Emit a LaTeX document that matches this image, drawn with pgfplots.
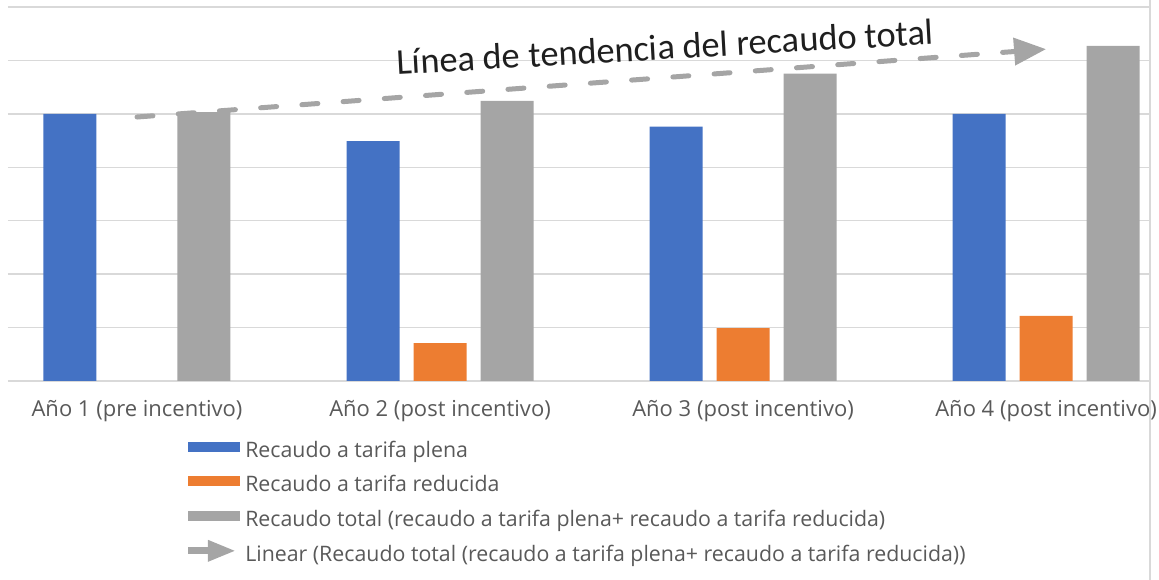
\documentclass[border=0pt]{standalone}
\usepackage{pgfplots}
\pgfplotsset{compat=1.18}
\usepackage{fontspec}
\setmainfont{Open Sans}
\newfontfamily\titlefont{Carlito}
\usetikzlibrary{arrows.meta}
\definecolor{cblue}{HTML}{4472C4}
\definecolor{corange}{HTML}{ED7D31}
\definecolor{cgray}{HTML}{A5A5A5}
\definecolor{cgrid}{HTML}{D9D9D9}
\definecolor{ctext}{HTML}{595959}
\begin{document}
\begin{tikzpicture}
\useasboundingbox (0,0) rectangle (869.25pt,435pt);
\begin{axis}[
  at={(6pt,149.25pt)}, anchor=south west,
  scale only axis, width=856.5pt, height=285.75pt,
  xmin=-0.4257, xmax=3.343, ymin=0, ymax=7.13,
  axis line style={draw=none},
  ytick={0,1,2,3,4,5,6,7}, yticklabels={},
  ymajorgrids, grid style={cgrid, line width=1.1pt},
  major tick length=0pt,
  xtick={0,1,2,3},
  xticklabels={Año 1 (pre incentivo), Año 2 (post incentivo), Año 3 (post incentivo), Año 4 (post incentivo)},
  x tick label style={anchor=base, yshift=-27pt, font=\fontsize{16.5}{19}\selectfont, text=ctext},
  clip=false,
  legend style={at={(axis description cs:0.1576,-0.160)}, anchor=north west,
    draw=none, fill=none, inner sep=0pt, outer sep=0pt, row sep=10.5pt,
    font=\fontsize{16}{19}\selectfont, text=ctext,
    nodes={inner sep=0pt, text height=11pt, text depth=4pt},
    /tikz/every odd column/.style={column sep=4pt}},
  legend cell align=left,
]
\addplot[forget plot, ybar, bar width=39.75pt, bar shift=-50.25pt, fill=cblue, draw=none]
  coordinates {(0,5.00) (1,4.49) (2,4.76) (3,5.00)};
\addplot[forget plot, ybar, bar width=39.75pt, bar shift=0pt, fill=corange, draw=none]
  coordinates {(1,0.71) (2,0.99) (3,1.22)};
\addplot[forget plot, ybar, bar width=39.75pt, bar shift=50.25pt, fill=cgray, draw=none]
  coordinates {(0,5.03) (1,5.24) (2,5.75) (3,6.27)};
\addplot[forget plot, color=cgray, line width=3.75pt, line cap=round, dash pattern=on 12pt off 19pt,
  -{Triangle[length=24pt, width=20pt]}]
  coordinates {(0,4.94) (3,6.21)};
\addlegendimage{legend image code/.code={\path[use as bounding box, draw=none, fill=none] (0pt,0pt) rectangle (39pt,8pt); \fill[cblue, draw=none] (0pt,0.6pt) rectangle (39pt,8.1pt);}}
\addlegendentry{Recaudo a tarifa plena}
\addlegendimage{legend image code/.code={\path[use as bounding box, draw=none, fill=none] (0pt,0pt) rectangle (39pt,8pt); \fill[corange, draw=none] (0pt,0.6pt) rectangle (39pt,8.1pt);}}
\addlegendentry{Recaudo a tarifa reducida}
\addlegendimage{legend image code/.code={\path[use as bounding box, draw=none, fill=none] (0pt,0pt) rectangle (39pt,8pt); \fill[cgray, draw=none] (0pt,0.6pt) rectangle (39pt,8.1pt);}}
\addlegendentry{Recaudo total (recaudo a tarifa plena+ recaudo a tarifa reducida)}
\addlegendimage{legend image code/.code={\path[use as bounding box, draw=none, fill=none] (0pt,0pt) rectangle (39pt,8pt); \fill[cgray, draw=none] (0pt,1.7pt) rectangle (19pt,7pt); \fill[cgray, draw=none] (15pt,12.6pt) -- (35pt,4.35pt) -- (15pt,-3.9pt) -- cycle;}}
\addlegendentry{Linear (Recaudo total (recaudo a tarifa plena+ recaudo a tarifa reducida))}
\node[rotate=3.2, font=\titlefont\fontsize{27.3}{32}\selectfont, text=black!88] at (axis cs:1.743,6.25) {Línea de tendencia del recaudo total};
\draw[cgrid, line width=1.1pt] (rel axis cs:1,1.02) -- (rel axis cs:1,-0.55);
\end{axis}
\end{tikzpicture}
\end{document}
